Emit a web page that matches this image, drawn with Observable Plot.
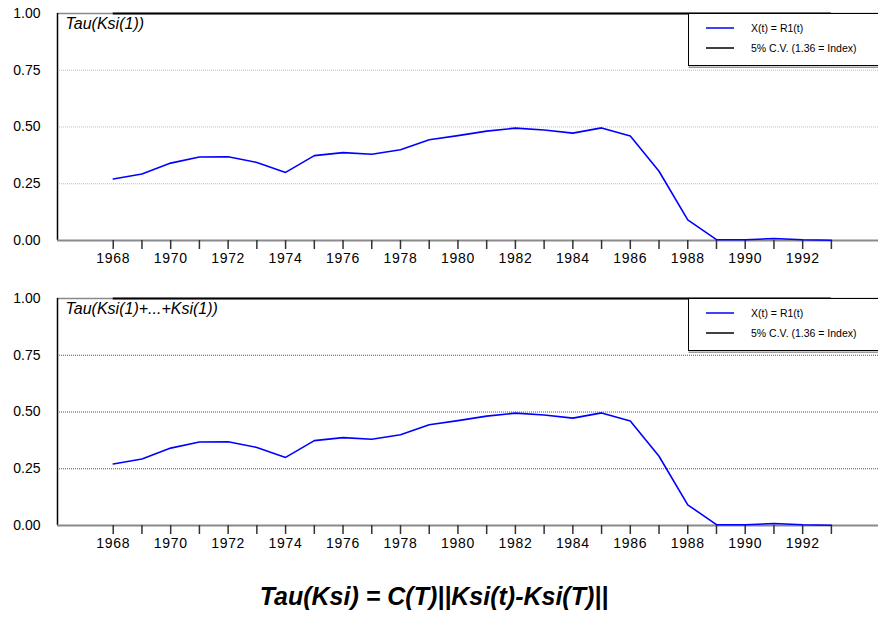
<!DOCTYPE html>
<html>
<head>
<meta charset="utf-8">
<script src="https://cdn.jsdelivr.net/npm/d3@7"></script>
<script src="https://cdn.jsdelivr.net/npm/@observablehq/plot@0.6"></script>
<style>
  body { margin: 0; background: #fff; font-family: "Liberation Sans", Arial, sans-serif; }
  #chart svg { display: block; }
  #formula {
    margin-top: 12px;
    padding-right: 10px;
    text-align: center;
    font: italic bold 25px/28px "Liberation Sans", Arial, sans-serif;
    color: #000;
  }
</style>
</head>
<body>
<div id="chart"></div>
<div id="formula">Tau(Ksi) = C(T)||Ksi(t)-Ksi(T)||</div>
<script>
// Years of the series
const years = [1968, 1969, 1970, 1971, 1972, 1973, 1974, 1975, 1976, 1977, 1978, 1979, 1980,
               1981, 1982, 1983, 1984, 1985, 1986, 1987, 1988, 1989, 1990, 1991, 1992, 1993];

// Tau(Ksi(1))
const tauKsi1 = [0.271, 0.293, 0.341, 0.368, 0.369, 0.344, 0.300, 0.374, 0.387, 0.380, 0.400, 0.444, 0.462,
                 0.482, 0.495, 0.487, 0.473, 0.496, 0.460, 0.305, 0.091, 0.004, 0.003, 0.009, 0.003, 0.001];

// Tau(Ksi(1)+...+Ksi(1))
const tauKsiSum = [0.271, 0.293, 0.341, 0.368, 0.369, 0.344, 0.300, 0.374, 0.387, 0.380, 0.400, 0.444, 0.462,
                   0.482, 0.495, 0.487, 0.473, 0.496, 0.460, 0.305, 0.091, 0.004, 0.003, 0.009, 0.003, 0.001];

// 5% critical value (1.36 = Index), shown clipped at the top of the frame
const critValue = 1.36;

// Axis ticks
const yTicks = [0, 0.25, 0.5, 0.75, 1];
const gridTicks = [0.25, 0.5, 0.75];
const labelledYears = [1968, 1970, 1972, 1974, 1976, 1978, 1980, 1982, 1984, 1986, 1988, 1990, 1992];

// Legend entries
const legendLabels = ["X(t) = R1(t)", "5% C.V. (1.36 = Index)"];
const legendColors = ["#0000ff", "#000000"];

const font = "Liberation Sans, Arial, sans-serif";
const xDomain = [1966.06, 1994.64];
const yDomain = [0, 1];

function panel(title, values, gridColor) {
  const rows = years.map((year, i) => ({year, tau: values[i]}));
  const first = years[0], last = years[years.length - 1];
  const svg = Plot.plot({
    width: 878,
    height: 285,
    marginLeft: 57,
    marginRight: 0,
    marginTop: 13,
    marginBottom: 45,
    style: {fontFamily: font, fontSize: "14px", background: "#fff", overflow: "visible", color: "#000"},
    x: {domain: xDomain, axis: null, label: null},
    y: {domain: yDomain, axis: null, label: null},
    marks: [
      Plot.gridY(gridTicks, {stroke: gridColor, strokeOpacity: 1, strokeDasharray: "1,1", strokeWidth: 1}),
      // frame: gray top, black left, gray baseline
      Plot.ruleY([yDomain[1]], {stroke: "#8a8a8a", strokeWidth: 1.5}),
      Plot.ruleX([xDomain[0]], {y1: yDomain[0], y2: yDomain[1], stroke: "#000", strokeWidth: 1.5}),
      Plot.ruleY([yDomain[0]], {stroke: "#8a8a8a", strokeWidth: 2}),
      // critical value line over the sample range
      Plot.ruleY([Math.min(critValue, yDomain[1])], {x1: first, x2: last, stroke: "#000", strokeWidth: 2}),
      Plot.axisY(yTicks, {
        anchor: "left", tickSize: 0, tickPadding: 17, fontSize: 14, label: null,
        tickFormat: d => d.toFixed(2)
      }),
      Plot.axisX(years, {
        anchor: "bottom", tickSize: 9, tickPadding: 4, fontSize: 14, label: null,
        stroke: "#333", strokeWidth: 1.5,
        tickFormat: d => labelledYears.includes(d) ? String(d) : ""
      }),
      Plot.line(rows, {x: "year", y: "tau", stroke: "#0000ff", strokeWidth: 1.6}),
      Plot.text([title], {
        frameAnchor: "top-left", dx: 8, dy: 4, textAnchor: "start", lineAnchor: "top",
        fontSize: 16, fontStyle: "italic", fill: "#000"
      })
    ]
  });

  // slightly spaced year labels
  d3.select(svg).selectAll("g[aria-label='x-axis tick label'] text").attr("letter-spacing", "0.7px");

  // legend box in the upper right corner of the frame
  const g = d3.select(svg).append("g").attr("font-family", font).attr("text-anchor", "start");
  g.append("rect").attr("x", 688.5).attr("y", 66.5).attr("width", 200).attr("height", 1.5).attr("fill", "#999");
  g.append("rect").attr("x", 688.5).attr("y", 13.5).attr("width", 200).attr("height", 52)
    .attr("fill", "#fff").attr("stroke", "#000").attr("stroke-width", 1);
  legendLabels.forEach((label, i) => {
    const y = 28 + i * 20;
    g.append("line").attr("x1", 706).attr("x2", 734).attr("y1", y).attr("y2", y)
      .attr("stroke", legendColors[i]).attr("stroke-width", 1.5);
    g.append("text").attr("x", 751).attr("y", y).attr("dy", "0.35em")
      .attr("text-anchor", "start").attr("font-size", 10.5).attr("fill", "#000").text(label);
  });
  return svg;
}

const chart = document.getElementById("chart");
chart.append(panel("Tau(Ksi(1))", tauKsi1, "#bdbdbd"));
chart.append(panel("Tau(Ksi(1)+...+Ksi(1))", tauKsiSum, "#555555"));
</script>
</body>
</html>
